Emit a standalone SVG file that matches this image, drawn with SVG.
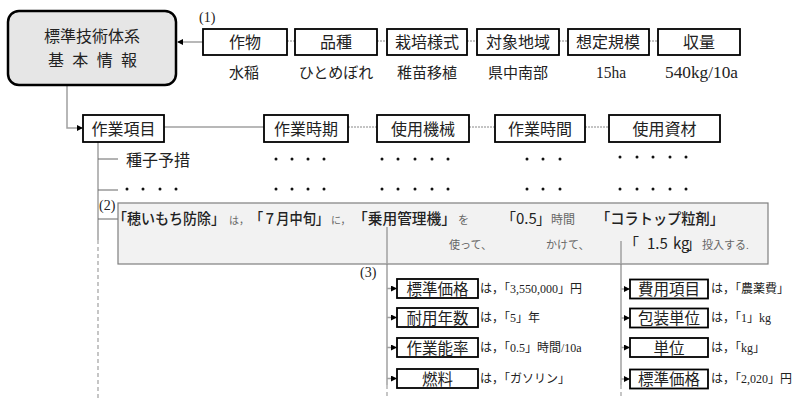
<svg xmlns="http://www.w3.org/2000/svg" width="802" height="399" viewBox="0 0 802 399">
<defs>
<marker id="ah" markerWidth="6" markerHeight="6" refX="5" refY="3" orient="auto" markerUnits="userSpaceOnUse">
<path d="M0,0 L6,3 L0,6 Z" fill="#000"/>
</marker>
<style>
.m{font-family:"Liberation Serif","Noto Sans CJK JP",serif;fill:#222}
.g{font-family:"Noto Sans CJK JP",sans-serif;fill:#222}
.s{font-family:"Liberation Serif","Noto Sans CJK JP",serif;fill:#666}
.bx{fill:#fff;stroke:#000;stroke-width:1.8}
.ln{stroke:#a0a0a0;stroke-width:1.5;fill:none}
.dl{stroke:#888;stroke-width:1;stroke-dasharray:2,1;fill:none}
.dsh{stroke:#a0a0a0;stroke-width:1.2;stroke-dasharray:4,3;fill:none}
.dot{fill:#111}
</style>
</defs>
<rect width="802" height="399" fill="#fff"/>

<g id="connectors">
<line class="ln" x1="203" y1="42" x2="178" y2="42" marker-end="url(#ah)"/>
<line class="dl" x1="287" y1="41" x2="295" y2="41"/>
<line class="dl" x1="377" y1="41" x2="387" y2="41"/>
<line class="dl" x1="467" y1="41" x2="477" y2="41"/>
<line class="dl" x1="559" y1="41" x2="568" y2="41"/>
<line class="dl" x1="649" y1="41" x2="658" y2="41"/>
<polyline class="ln" points="67,86 67,128 82,128" marker-end="url(#ah)"/>
<line class="ln" x1="164" y1="127" x2="264" y2="127"/>
<line class="dl" x1="348" y1="127" x2="377" y2="127"/>
<line class="dl" x1="469" y1="127" x2="495" y2="127"/>
<line class="dl" x1="585" y1="127" x2="609" y2="127"/>
<line class="ln" x1="98" y1="142" x2="98" y2="240"/>
<line class="dsh" x1="98" y1="240" x2="98" y2="399"/>
<line x1="98" y1="159" x2="118" y2="159" stroke="#666" stroke-width="1"/>
<line x1="98" y1="190" x2="118" y2="190" stroke="#666" stroke-width="1"/>
<line x1="98" y1="219" x2="118" y2="219" stroke="#666" stroke-width="1"/>
<line class="ln" x1="387" y1="264" x2="387" y2="385"/>
<line class="dsh" x1="387" y1="385" x2="387" y2="399"/>
<line class="ln" x1="621" y1="264" x2="621" y2="385"/>
<line class="dsh" x1="621" y1="385" x2="621" y2="399"/>
<line class="ln" x1="387" y1="288.5" x2="396" y2="288.5" marker-end="url(#ah)"/>
<line class="ln" x1="387" y1="317.5" x2="396" y2="317.5" marker-end="url(#ah)"/>
<line class="ln" x1="387" y1="347.5" x2="396" y2="347.5" marker-end="url(#ah)"/>
<line class="ln" x1="387" y1="378.5" x2="396" y2="378.5" marker-end="url(#ah)"/>
<line class="ln" x1="621" y1="289" x2="629" y2="289" marker-end="url(#ah)"/>
<line class="ln" x1="621" y1="318" x2="629" y2="318" marker-end="url(#ah)"/>
<line class="ln" x1="621" y1="347.5" x2="629" y2="347.5" marker-end="url(#ah)"/>
<line class="ln" x1="621" y1="379" x2="629" y2="379" marker-end="url(#ah)"/>
</g>

<g id="main">
<rect x="8" y="11" width="168" height="74" rx="11" fill="#e6e6e6" stroke="#000" stroke-width="2.5"/>
<text class="m" x="92" y="42" font-size="16" text-anchor="middle">標準技術体系</text>
<text class="m" x="48" y="66" font-size="16" textLength="89" lengthAdjust="spacing">基 本 情 報</text>
</g>

<text class="m" x="199" y="22" font-size="14">(1)</text>

<g id="n-sakumotsu"><rect class="bx" x="203" y="29" width="84" height="26"/><text class="m" x="245" y="48" font-size="16" text-anchor="middle">作物</text><text class="m" x="244" y="78" font-size="15" text-anchor="middle">水稲</text></g>
<g id="n-hinshu"><rect class="bx" x="295" y="29" width="82" height="26"/><text class="m" x="336" y="48" font-size="16" text-anchor="middle">品種</text><text class="m" x="336" y="78" font-size="15" text-anchor="middle">ひとめぼれ</text></g>
<g id="n-saibai"><rect class="bx" x="387" y="29" width="80" height="26"/><text class="m" x="427" y="48" font-size="16" text-anchor="middle">栽培様式</text><text class="m" x="427" y="78" font-size="15" text-anchor="middle">稚苗移植</text></g>
<g id="n-chiiki"><rect class="bx" x="477" y="29" width="82" height="26"/><text class="m" x="518" y="48" font-size="16" text-anchor="middle">対象地域</text><text class="m" x="518" y="78" font-size="15" text-anchor="middle">県中南部</text></g>
<g id="n-kibo"><rect class="bx" x="568" y="29" width="81" height="26"/><text class="m" x="608" y="48" font-size="16" text-anchor="middle">想定規模</text><text class="m" x="596" y="78" font-size="17" textLength="30" lengthAdjust="spacingAndGlyphs">15ha</text></g>
<g id="n-shuryo"><rect class="bx" x="658" y="29" width="82" height="26"/><text class="m" x="699" y="48" font-size="16" text-anchor="middle">収量</text><text class="m" x="665" y="78" font-size="17" textLength="73" lengthAdjust="spacingAndGlyphs">540kg/10a</text></g>

<g id="n-sagyokomoku"><rect class="bx" x="83" y="115" width="81" height="27"/><text class="m" x="123.5" y="135" font-size="16" text-anchor="middle">作業項目</text></g>
<g id="n-sagyojiki"><rect class="bx" x="264" y="115" width="84" height="27"/><text class="m" x="306" y="135" font-size="16" text-anchor="middle">作業時期</text></g>
<g id="n-kikai"><rect class="bx" x="377" y="115" width="92" height="27"/><text class="m" x="423" y="135" font-size="16" text-anchor="middle">使用機械</text></g>
<g id="n-jikan"><rect class="bx" x="495" y="115" width="90" height="27"/><text class="m" x="540" y="135" font-size="16" text-anchor="middle">作業時間</text></g>
<g id="n-shizai"><rect class="bx" x="609" y="115" width="111" height="27"/><text class="m" x="664.5" y="135" font-size="16" text-anchor="middle">使用資材</text></g>

<text class="m" x="126" y="166" font-size="16">種子予措</text>
<g id="dots">
<circle class="dot" cx="276" cy="159" r="1.5"/><circle class="dot" cx="292" cy="159" r="1.5"/><circle class="dot" cx="308" cy="159" r="1.5"/><circle class="dot" cx="324" cy="159" r="1.5"/>
<circle class="dot" cx="382" cy="159" r="1.5"/><circle class="dot" cx="398" cy="159" r="1.5"/><circle class="dot" cx="415" cy="159" r="1.5"/><circle class="dot" cx="432" cy="159" r="1.5"/><circle class="dot" cx="448" cy="159" r="1.5"/>
<circle class="dot" cx="527" cy="159" r="1.5"/><circle class="dot" cx="543" cy="159" r="1.5"/><circle class="dot" cx="560" cy="159" r="1.5"/>
<circle class="dot" cx="620" cy="157" r="1.5"/><circle class="dot" cx="637" cy="157" r="1.5"/><circle class="dot" cx="653" cy="157" r="1.5"/><circle class="dot" cx="670" cy="157" r="1.5"/><circle class="dot" cx="686" cy="157" r="1.5"/>
<circle class="dot" cx="127" cy="189" r="1.5"/><circle class="dot" cx="143" cy="189" r="1.5"/><circle class="dot" cx="160" cy="189" r="1.5"/><circle class="dot" cx="176" cy="189" r="1.5"/>
<circle class="dot" cx="276" cy="189" r="1.5"/><circle class="dot" cx="292" cy="189" r="1.5"/><circle class="dot" cx="308" cy="189" r="1.5"/><circle class="dot" cx="324" cy="189" r="1.5"/>
<circle class="dot" cx="382" cy="189" r="1.5"/><circle class="dot" cx="398" cy="189" r="1.5"/><circle class="dot" cx="415" cy="189" r="1.5"/><circle class="dot" cx="432" cy="189" r="1.5"/><circle class="dot" cx="448" cy="189" r="1.5"/>
<circle class="dot" cx="527" cy="189" r="1.5"/><circle class="dot" cx="543" cy="189" r="1.5"/><circle class="dot" cx="560" cy="189" r="1.5"/>
<circle class="dot" cx="620" cy="189" r="1.5"/><circle class="dot" cx="637" cy="189" r="1.5"/><circle class="dot" cx="653" cy="189" r="1.5"/><circle class="dot" cx="670" cy="189" r="1.5"/><circle class="dot" cx="686" cy="189" r="1.5"/>
</g>

<text class="m" x="99" y="210" font-size="14">(2)</text>
<g id="sentence">
<rect x="118" y="203" width="650" height="61" fill="#f2f2f2" stroke="#7f7f7f" stroke-width="1.2"/>
<line class="ln" x1="387" y1="227" x2="387" y2="264"/>
<line class="ln" x1="621" y1="241" x2="621" y2="264"/>
<text class="g" x="113" y="224" font-size="15" font-weight="500" textLength="112" lengthAdjust="spacingAndGlyphs">「穂いもち防除」</text>
<text class="s" x="229" y="224" font-size="10">は，</text>
<text class="g" x="250" y="224" font-size="15" font-weight="500" textLength="79" lengthAdjust="spacingAndGlyphs">「７月中旬」</text>
<text class="s" x="331" y="224" font-size="10">に，</text>
<text class="g" x="353" y="224" font-size="15" font-weight="500" textLength="103" lengthAdjust="spacingAndGlyphs">「乗用管理機」</text>
<text class="s" x="458" y="224" font-size="11">を</text>
<text class="g" x="501" y="224" font-size="15">「<tspan x="516">0.5</tspan><tspan x="536">」</tspan></text>
<text class="s" x="551" y="224" font-size="12">時間</text>
<text class="g" x="596" y="224" font-size="15" font-weight="500" textLength="128" lengthAdjust="spacingAndGlyphs">「コラトップ粒剤」</text>
<text class="s" x="449" y="249" font-size="11">使って、</text>
<text class="s" x="546" y="249" font-size="11">かけて、</text>
<text class="g" x="624" y="249" font-size="15">「<tspan x="647">1.5</tspan><tspan x="673">kg</tspan><tspan x="686">」</tspan></text>
<text class="s" x="702" y="249" font-size="11">投入する.</text>
</g>

<text class="m" x="360" y="277" font-size="14">(3)</text>
<g id="n-kakaku1"><rect class="bx" x="397" y="279" width="81" height="19"/><text class="m" x="437.5" y="294.5" font-size="15.5" text-anchor="middle">標準価格</text><text class="m" x="480" y="292.5" font-size="12">は，「3,550,000」円</text></g>
<g id="n-nensu"><rect class="bx" x="397" y="308" width="81" height="19"/><text class="m" x="437.5" y="323.5" font-size="15.5" text-anchor="middle">耐用年数</text><text class="m" x="480" y="321.5" font-size="12">は，「5」年</text></g>
<g id="n-noritsu"><rect class="bx" x="397" y="338" width="81" height="19"/><text class="m" x="437.5" y="353.5" font-size="15.5" text-anchor="middle">作業能率</text><text class="m" x="480" y="351.5" font-size="12">は，「0.5」時間/10a</text></g>
<g id="n-nenryo"><rect class="bx" x="397" y="369" width="81" height="19"/><text class="m" x="437.5" y="384.5" font-size="15.5" text-anchor="middle">燃料</text><text class="m" x="480" y="382.5" font-size="12">は，「ガソリン」</text></g>

<g id="n-hiyo"><rect class="bx" x="630" y="279.5" width="78" height="19"/><text class="m" x="669" y="295" font-size="15.5" text-anchor="middle">費用項目</text><text class="m" x="711" y="293" font-size="12">は，「農薬費」</text></g>
<g id="n-hoso"><rect class="bx" x="630" y="308.5" width="78" height="19"/><text class="m" x="669" y="324" font-size="15.5" text-anchor="middle">包装単位</text><text class="m" x="711" y="322" font-size="12">は，「1」kg</text></g>
<g id="n-tani"><rect class="bx" x="630" y="338" width="78" height="19"/><text class="m" x="669" y="353.5" font-size="15.5" text-anchor="middle">単位</text><text class="m" x="711" y="351.5" font-size="12">は，「kg」</text></g>
<g id="n-kakaku2"><rect class="bx" x="630" y="369.5" width="78" height="19"/><text class="m" x="669" y="385" font-size="15.5" text-anchor="middle">標準価格</text><text class="m" x="711" y="383" font-size="12">は，「2,020」円</text></g>
</svg>
